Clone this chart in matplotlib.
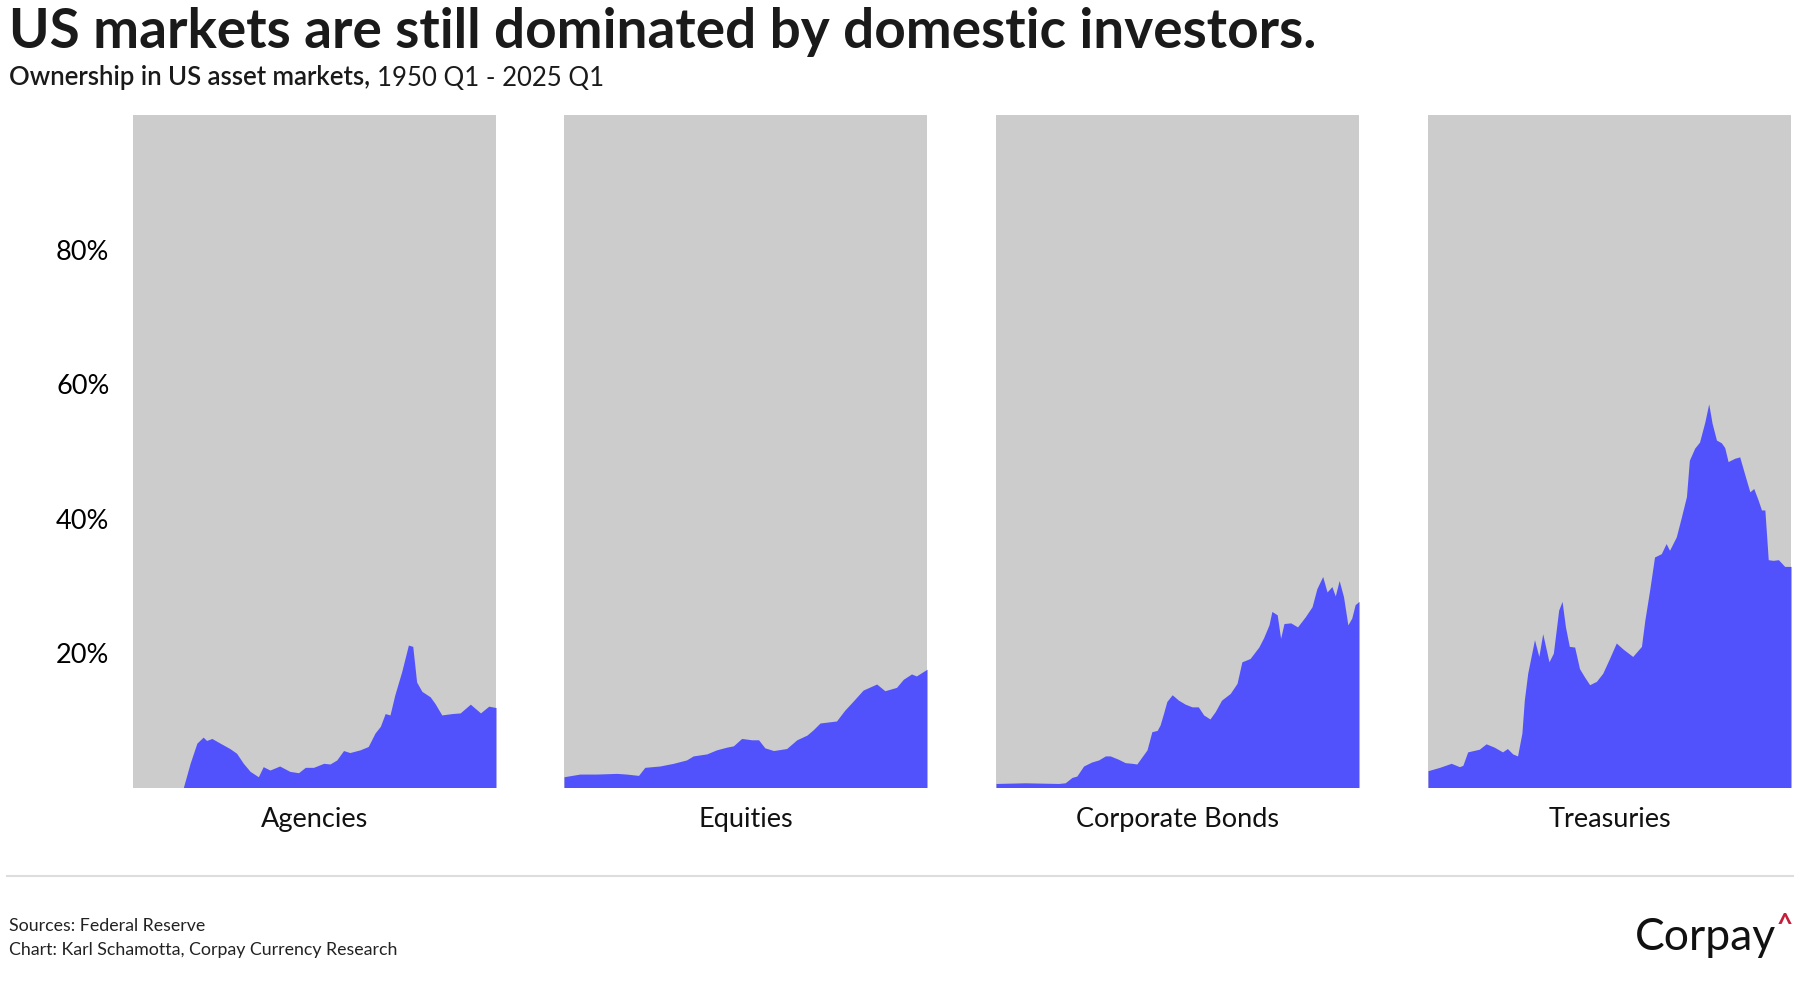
import matplotlib
matplotlib.use("Agg")
import matplotlib.pyplot as plt

plt.rcParams["font.family"] = ["Lato", "DejaVu Sans"]

# share of each market held by foreign investors, %
agencies_years = [1950, 1960.4, 1961.8, 1963.2, 1964.5, 1965.2, 1966.3, 1968, 1970, 1971.4,
                  1972.8, 1974.2, 1975.9, 1976.9, 1978.3, 1980.3, 1982.4, 1984.2, 1985.6,
                  1987.3, 1989.4, 1990.7, 1992.1, 1993.5, 1994.8, 1996.9, 1998.6, 2000,
                  2001.1, 2002.1, 2003.1, 2004.1, 2005.5, 2006.9, 2007.8, 2008.6, 2009.7,
                  2011.4, 2012.4, 2013.8, 2015.9, 2017.6, 2019.7, 2021.8, 2023.5, 2025]
agencies = [0, 0, 3.6, 6.6, 7.5, 7.0, 7.3, 6.6, 5.8, 5.1,
            3.6, 2.4, 1.6, 3.1, 2.6, 3.2, 2.4, 2.2, 3.0,
            3.0, 3.6, 3.5, 4.1, 5.5, 5.2, 5.6, 6.1, 8.1,
            9.1, 11.0, 10.8, 13.8, 17.2, 21.2, 21.0, 15.7, 14.3,
            13.5, 12.5, 10.8, 11.0, 11.1, 12.4, 11.1, 12.1, 11.9]

equities_years = [1950, 1953.3, 1956.7, 1960.9, 1962.9, 1965.4, 1966.7, 1969.8, 1972.6, 1975.3,
                  1976.7, 1979.5, 1981.5, 1983.6, 1985, 1986.7, 1988.8, 1990.2, 1991.5,
                  1993.3, 1996, 1998.1, 2000.2, 2001.5, 2002.9, 2006.3, 2008, 2009.8,
                  2011.8, 2014.6, 2016.3, 2018.7, 2020.1, 2021.8, 2022.8, 2025]
equities = [1.6, 2.0, 2.0, 2.1, 2.0, 1.8, 3.0, 3.2, 3.6, 4.1,
            4.7, 5.0, 5.6, 6.0, 6.2, 7.3, 7.1, 7.1, 5.9,
            5.5, 5.8, 7.1, 7.8, 8.6, 9.6, 9.9, 11.5, 12.9,
            14.5, 15.4, 14.4, 14.9, 16.1, 16.9, 16.6, 17.6]

corp_years = [1950, 1956, 1962.9, 1964.3, 1965.7, 1966.7, 1968.1, 1969.8, 1971.2, 1972.6,
              1973.6, 1975.3, 1976.7, 1978.1, 1979.1, 1980.2, 1981.2, 1982.2, 1983.3,
              1983.9, 1984.6, 1985.3, 1986.4, 1987.7, 1989.1, 1990.5, 1991.8, 1992.9,
              1994.2, 1995.3, 1996.6, 1998.4, 1999.8, 2000.8, 2002.5, 2004.3, 2005.3,
              2006.4, 2007, 2008.1, 2008.8, 2009.5, 2010.9, 2012.3, 2013.9, 2015.3,
              2016.3, 2017.5, 2018.4, 2019.4, 2020.1, 2020.9, 2021.8, 2022.7, 2023.5,
              2024.2, 2025]
corp_bonds = [0.6, 0.7, 0.6, 0.7, 1.5, 1.7, 3.2, 3.8, 4.1, 4.7,
              4.7, 4.2, 3.7, 3.6, 3.5, 4.6, 5.6, 8.3, 8.5,
              9.3, 11.0, 12.8, 13.8, 13.0, 12.4, 12.0, 12.0, 10.8,
              10.2, 11.3, 13.0, 14.0, 15.5, 18.7, 19.2, 20.9, 22.3,
              24.2, 26.2, 25.7, 22.2, 24.4, 24.5, 23.9, 25.4, 26.9,
              29.6, 31.4, 29.1, 29.9, 28.5, 30.8, 28.4, 24.2, 25.2,
              27.2, 27.7]

treas_years = [1950, 1952.4, 1954.8, 1956.5, 1957.2, 1958.2, 1960.6, 1962, 1963.7, 1965.4,
               1966.4, 1967.5, 1968.5, 1969.4, 1969.9, 1970.6, 1971.3, 1972, 1972.9,
               1973.7, 1975, 1975.9, 1977, 1977.7, 1978.4, 1979.2, 1980.3, 1981.3,
               1982.3, 1983.4, 1984.8, 1986.1, 1987.5, 1988.9, 1990.3, 1992.3, 1994.1,
               1994.8, 1995.8, 1996.8, 1998.2, 1999.2, 1999.9, 2001.3, 2002.3, 2003.4,
               2004, 2005.1, 2006.1, 2007.2, 2008, 2008.7, 2009.6, 2010.6, 2011.3,
               2012, 2013.4, 2014.4, 2015.4, 2016.5, 2017.3, 2018.2, 2018.9, 2019.6,
               2020.3, 2021.3, 2022.4, 2023.7, 2025]
treasuries = [2.5, 3.0, 3.6, 3.1, 3.3, 5.3, 5.7, 6.5, 6.0, 5.3,
              5.8, 5.0, 4.7, 8.1, 13.0, 17.0, 19.5, 22.0, 19.5,
              22.9, 18.7, 20.0, 26.4, 27.7, 23.9, 21.0, 20.9, 17.7,
              16.5, 15.3, 15.8, 17.0, 19.2, 21.5, 20.6, 19.5, 21.0,
              24.9, 29.4, 34.3, 34.8, 36.3, 35.3, 37.3, 40.1, 43.3,
              48.7, 50.5, 51.4, 54.4, 57.1, 54.2, 51.7, 51.3, 50.6,
              48.5, 49.0, 49.2, 46.7, 44.0, 44.5, 42.8, 41.3, 41.3,
              33.9, 33.8, 33.9, 32.9, 32.9]

names = ["Agencies", "Equities", "Corporate Bonds", "Treasuries"]
series = [(agencies_years, agencies), (equities_years, equities),
          (corp_years, corp_bonds), (treas_years, treasuries)]
yticks = [20, 40, 60, 80]
ytick_labels = ["20%", "40%", "60%", "80%"]

BLUE = "#5252fc"
GREY = "#cccccc"

fig = plt.figure(figsize=(18.02, 10), dpi=100)

lefts = [133, 564, 996, 1428]
for i, (name, (xs, ys)) in enumerate(zip(names, series)):
    ax = fig.add_axes([lefts[i] / 1802, 0.2125, 363 / 1802, 0.672])
    ax.set_facecolor(GREY)
    ax.fill_between(xs, 0, ys, color=BLUE, linewidth=0)
    ax.set_xlim(1950, 2025)
    ax.set_ylim(0, 100)
    for s in ax.spines.values():
        s.set_visible(False)
    ax.set_xticks([])
    if i == 0:
        ax.set_yticks(yticks)
        ax.set_yticklabels(ytick_labels, fontsize=19.5)
        ax.tick_params(axis="y", length=0, pad=17)
    else:
        ax.set_yticks([])
    ax.text(0.5, -0.047, name, transform=ax.transAxes, ha="center", va="center",
            fontsize=19.5, color="#111111")

# titles
fig.text(0.005, 0.968, "US markets are still dominated by domestic investors.",
         fontsize=39.5, fontweight="bold", color="#1a1a1a", ha="left", va="center")
t = fig.text(0.005, 0.922, "Ownership in US asset markets, ", fontsize=18.5,
             fontweight="semibold", color="#1a1a1a", ha="left", va="center")
fig.canvas.draw()
bb = t.get_window_extent()
fig.text(bb.x1 / fig.bbox.width, 0.922, "1950 Q1 - 2025 Q1", fontsize=18.5,
         fontweight="normal", color="#1a1a1a", ha="left", va="center")

# footer
fig.add_artist(plt.Line2D([7 / 1802, 1793 / 1802], [0.124, 0.124], color="#dddddd", lw=1.5))
fig.text(0.005, 0.074, "Sources: Federal Reserve", fontsize=12.8, color="#222222", va="center")
fig.text(0.005, 0.050, "Chart: Karl Schamotta, Corpay Currency Research", fontsize=12.8,
         color="#222222", va="center")
fig.text(0.9856, 0.062, "Corpay", fontsize=32, color="#111111", ha="right", va="center")
fig.text(0.9905, 0.074, "^", fontsize=20, fontweight="bold", color="#c41e3a",
         ha="center", va="center")

fig.savefig("out.png", dpi=100)
